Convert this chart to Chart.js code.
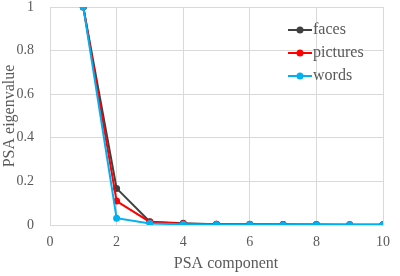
<!DOCTYPE html>
<html>
<head>
<meta charset="utf-8">
<script src="https://cdn.jsdelivr.net/npm/chart.js@4.4.1/dist/chart.umd.min.js"></script>
<style>
  html, body { margin: 0; padding: 0; background: #fff; }
  #wrap { width: 400px; height: 276px; }
</style>
</head>
<body>
<div id="wrap"><canvas id="psaChart" width="400" height="276"></canvas></div>
<script>
/* ---------- data ---------- */
const components = [1, 2, 3, 4, 5, 6, 7, 8, 9, 10];
const faces    = [1, 0.168, 0.015, 0.008, 0.004, 0.003, 0.002, 0.002, 0.001, 0.001];
const pictures = [1, 0.110, 0.014, 0.006, 0.003, 0.002, 0.002, 0.001, 0.001, 0.001];
const words    = [1, 0.031, 0.007, 0.003, 0.002, 0.002, 0.001, 0.001, 0.001, 0.001];
const seriesNames = ["faces", "pictures", "words"];
const seriesColors = ["#404040", "#ff0000", "#00b0f0"];
const yTicks = [0, 0.2, 0.4, 0.6, 0.8, 1];
const xTicks = [0, 2, 4, 6, 8, 10];
const xTitle = "PSA component";

const textColor = "#595959";
const gridColor = "#d9d9d9";
const fontFamily = "'Liberation Serif', 'Times New Roman', serif";

function points(values) {
  return components.map((c, i) => ({ x: c, y: values[i] }));
}

const allSeries = [faces, pictures, words];
const datasets = allSeries.map((vals, i) => ({
  label: seriesNames[i],
  data: points(vals),
  borderColor: seriesColors[i],
  backgroundColor: seriesColors[i],
  borderWidth: 2,
  pointRadius: 3.5,
  pointBorderWidth: 0,
  tension: 0,
  order: allSeries.length - i
}));

/* ---------- legend inside plot + x title ---------- */
const insideLegend = {
  id: "insideLegend",
  afterDraw(chart) {
    const ctx = chart.ctx;
    ctx.save();
    ctx.font = "16px " + fontFamily;
    ctx.textBaseline = "middle";
    chart.data.datasets.forEach((ds, i) => {
      const y = 30 + i * 23;
      const x0 = 288;
      ctx.strokeStyle = ds.borderColor;
      ctx.lineWidth = 2;
      ctx.beginPath();
      ctx.moveTo(x0, y);
      ctx.lineTo(x0 + 24, y);
      ctx.stroke();
      ctx.fillStyle = ds.borderColor;
      ctx.beginPath();
      ctx.arc(x0 + 12, y, 3.5, 0, Math.PI * 2);
      ctx.fill();
      ctx.fillStyle = textColor;
      ctx.fillText(ds.label, x0 + 25, y);
    });
    // x axis title, placed as in the reference
    ctx.textAlign = "center";
    ctx.fillText(xTitle, 226, 264);
    ctx.restore();
  }
};

new Chart(document.getElementById("psaChart"), {
  type: "line",
  data: { datasets },
  options: {
    responsive: false,
    animation: false,
    layout: { padding: { left: 0, right: 17, top: 7, bottom: 0 } },
    plugins: {
      legend: { display: false },
      tooltip: { enabled: false }
    },
    scales: {
      x: {
        type: "linear",
        min: 0,
        max: 10,
        afterBuildTicks: axis => { axis.ticks = xTicks.map(v => ({ value: v })); },
        grid: { color: gridColor, drawTicks: false },
        border: { color: gridColor },
        ticks: { color: textColor, padding: 9, font: { family: fontFamily, size: 14 } },
        afterFit: axis => {
          axis.height = 51;
          axis.paddingLeft = 0;
          axis.paddingRight = 0;
        }
      },
      y: {
        min: 0,
        max: 1,
        afterBuildTicks: axis => { axis.ticks = yTicks.map(v => ({ value: v })); },
        grid: { color: gridColor, drawTicks: false },
        border: { color: gridColor },
        ticks: {
          color: textColor,
          padding: 16,
          font: { family: fontFamily, size: 14 },
          callback: v => String(Math.round(v * 10) / 10)
        },
        title: {
          display: true,
          text: "PSA eigenvalue",
          color: textColor,
          padding: { top: 0, bottom: 0 },
          font: { family: fontFamily, size: 16 }
        },
        afterFit: axis => {
          axis.width = 50;
          axis.paddingTop = 0;
          axis.paddingBottom = 0;
        }
      }
    }
  },
  plugins: [insideLegend]
});
</script>
</body>
</html>
